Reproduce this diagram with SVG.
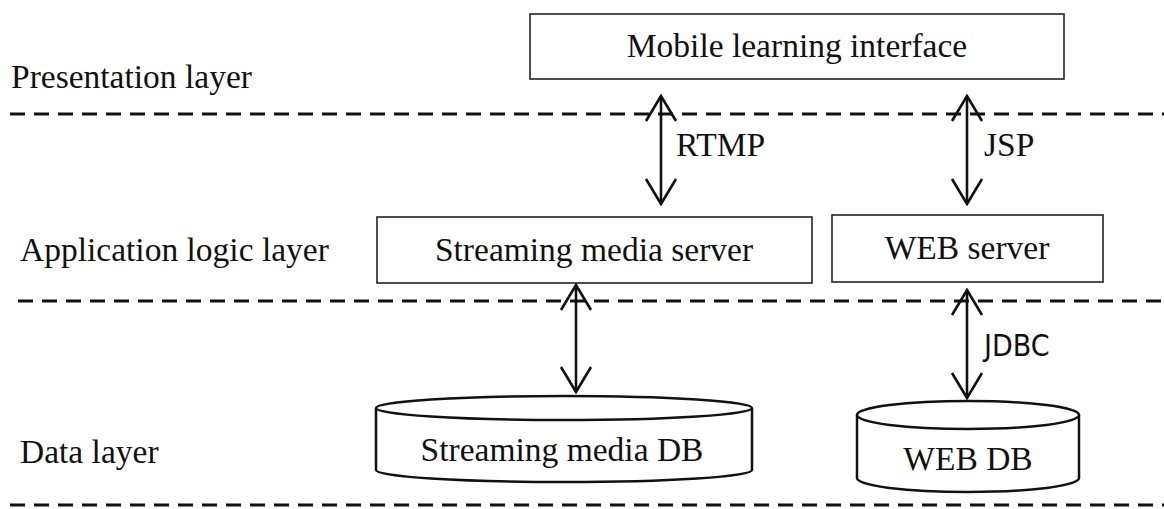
<svg xmlns="http://www.w3.org/2000/svg" width="1164" height="509" viewBox="0 0 1164 509">
<defs>
<style>
.t{font-family:"Liberation Serif","Times New Roman",serif;font-size:33.5px;fill:#111;}
.s{font-family:"DejaVu Sans Condensed","Liberation Sans Narrow","Liberation Sans",sans-serif;font-size:30px;fill:#111;}
.box{fill:#fff;stroke:#222;stroke-width:1.6;}
.cyl{fill:#fff;stroke:#111;stroke-width:2.5;}
.dash{stroke:#111;stroke-width:3;stroke-dasharray:15 9;fill:none;}
.arr{stroke:#111;stroke-width:2.6;fill:none;marker-start:url(#h);marker-end:url(#h);}
</style>
<marker id="h" viewBox="0 0 28 34" refX="26" refY="17" markerWidth="28" markerHeight="34" markerUnits="userSpaceOnUse" orient="auto-start-reverse">
<path d="M1,2 L26,17 L1,32" fill="none" stroke="#111" stroke-width="2.6"/>
</marker>
</defs>
<g id="layers">
<line class="dash" x1="10" y1="114" x2="1164" y2="114"/>
<line class="dash" x1="18" y1="301" x2="1164" y2="301"/>
<line class="dash" x1="10" y1="505" x2="1164" y2="505"/>
<text class="t" x="11" y="88">Presentation layer</text>
<text class="t" x="20" y="261">Application logic layer</text>
<text class="t" x="20" y="463">Data layer</text>
</g>
<g id="mobile">
<rect class="box" x="530" y="14" width="534" height="65"/>
<text class="t" x="797" y="57" text-anchor="middle">Mobile learning interface</text>
</g>
<g id="stream-server">
<rect class="box" x="377" y="217" width="435" height="66"/>
<text class="t" x="594" y="261" text-anchor="middle">Streaming media server</text>
</g>
<g id="web-server">
<rect class="box" x="832" y="215" width="271" height="67"/>
<text class="t" x="967" y="259" text-anchor="middle">WEB server</text>
</g>
<g id="stream-db">
<path class="cyl" d="M376,408 L376,470 A188,12 0 0 0 752,470 L752,408"/>
<ellipse class="cyl" cx="564" cy="408" rx="188" ry="12"/>
<text class="t" x="562" y="461" text-anchor="middle">Streaming media DB</text>
</g>
<g id="web-db">
<path class="cyl" d="M857,415 L857,478 A111,14 0 0 0 1079,478 L1079,415"/>
<ellipse class="cyl" cx="968" cy="415" rx="111" ry="14"/>
<text class="t" x="968" y="470" text-anchor="middle">WEB DB</text>
</g>
<g id="connectors">
<line class="arr" x1="661" y1="96" x2="661" y2="204"/>
<line class="arr" x1="967" y1="96" x2="967" y2="204"/>
<line class="arr" x1="576" y1="285" x2="576" y2="392"/>
<line class="arr" x1="967" y1="290" x2="967" y2="398"/>
<text class="t" x="676" y="156">RTMP</text>
<text class="t" x="984" y="156">JSP</text>
<text class="s" x="984" y="356">JDBC</text>
</g>
</svg>
